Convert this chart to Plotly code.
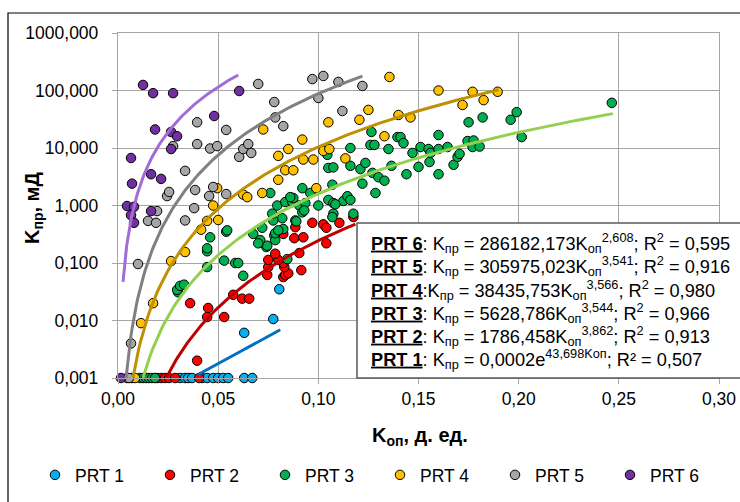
import numpy as np
import plotly.graph_objects as go

# ---------------- data ----------------
names = ["PRT 1", "PRT 2", "PRT 3", "PRT 4", "PRT 5", "PRT 6"]
marker_colors = ["#00B0F0", "#FF0000", "#00B050", "#FFC000", "#A6A6A6", "#7030A0"]
line_colors = ["#0070C0", "#C00000", "#92D050", "#BF9000", "#808080", "#A36BD8"]

prt1_x = [0.031, 0.0335, 0.035, 0.037, 0.042, 0.0445, 0.0475, 0.05, 0.0525, 0.055,
          0.063, 0.067, 0.063, 0.0775, 0.0805]
prt1_y = [0.001, 0.001, 0.001, 0.001, 0.001, 0.001, 0.001, 0.001, 0.001, 0.001,
          0.001, 0.001, 0.0061, 0.0106, 0.035]

prt2_x = [0.0195, 0.0215, 0.0235, 0.0255, 0.0285, 0.0405,
          0.0395, 0.0445, 0.053, 0.045, 0.036, 0.0575, 0.062, 0.0655, 0.0745,
          0.0825, 0.0835, 0.085, 0.0915, 0.075, 0.083, 0.0825, 0.075, 0.08,
          0.0785, 0.0905, 0.104, 0.088, 0.0925, 0.0825, 0.0885, 0.097, 0.1025,
          0.104, 0.1105, 0.1175]
prt2_y = [0.001, 0.001, 0.001, 0.001, 0.001, 0.001,
          0.002, 0.0115, 0.0115, 0.0165, 0.02, 0.028, 0.024, 0.024, 0.062,
          0.057, 0.062, 0.066, 0.075, 0.085, 0.085, 0.1, 0.113, 0.113,
          0.145, 0.149, 0.22, 0.27, 0.28, 0.32, 0.42, 0.5, 0.47,
          0.41, 0.5, 0.63]

prt3_x = [0.011, 0.0125, 0.014, 0.0155, 0.017, 0.0185,
          0.03, 0.0295, 0.031, 0.033, 0.0445, 0.0445, 0.053, 0.0585, 0.06, 0.0625,
          0.0445, 0.046, 0.054, 0.0545, 0.0675, 0.072, 0.074, 0.0745, 0.071, 0.078,
          0.0785, 0.0825, 0.0845, 0.07, 0.0785, 0.08, 0.082, 0.0775, 0.077, 0.0885,
          0.0795, 0.0835, 0.087, 0.0875, 0.0905, 0.0935, 0.076, 0.092, 0.096, 0.1,
          0.105, 0.1075, 0.1125, 0.1145, 0.116, 0.1075, 0.1175, 0.089, 0.092, 0.093,
          0.107, 0.086, 0.1085, 0.107, 0.105, 0.1075, 0.1045, 0.116, 0.116, 0.121,
          0.1235, 0.122, 0.127, 0.13, 0.133, 0.1285, 0.1265, 0.126, 0.128, 0.135,
          0.1365, 0.1395, 0.141, 0.1425, 0.144, 0.147, 0.15, 0.151, 0.1555, 0.155,
          0.156, 0.16, 0.1645, 0.16, 0.16, 0.1675, 0.1695, 0.1705, 0.1745, 0.1775,
          0.177, 0.1805, 0.175, 0.182, 0.196, 0.199, 0.2015, 0.2465]
prt3_y = [0.001, 0.001, 0.001, 0.001, 0.001, 0.001,
          0.031, 0.034, 0.04, 0.042, 0.085, 0.16, 0.11, 0.1, 0.1, 0.06,
          0.18, 0.28, 0.35, 0.37, 0.32, 0.41, 0.19, 0.2, 0.25, 0.3,
          0.25, 0.39, 0.117, 0.22, 0.33, 0.37, 0.6, 0.55, 0.72, 0.55,
          1.0, 1.15, 1.15, 1.35, 1.0, 1.1, 1.65, 2.0, 1.65, 1.0,
          1.25, 1.1, 1.2, 1.45, 1.25, 0.72, 0.72, 0.53, 0.76, 0.82,
          0.63, 1.4, 1.05, 2.3, 4.5, 4.6, 7.6, 10.0, 4.9, 4.3,
          5.5, 2.4, 3.7, 3.1, 2.7, 1.65, 19.0, 11.3, 11.3, 9.6,
          4.9, 15.5, 15.5, 12.2, 3.5, 8.2, 4.7, 10.4, 5.7, 9.6,
          8.2, 9.6, 10.4, 16.8, 3.5, 5.1, 7.0, 7.9, 13.2, 13.5,
          10.4, 10.6, 28.0, 34.0, 31.0, 42.0, 15.5, 61.0]

prt4_x = [0.007, 0.0085, 0.0115, 0.0175, 0.0265, 0.0335, 0.0415, 0.0445, 0.05,
          0.0475, 0.0495, 0.0625, 0.0645, 0.072, 0.08, 0.0835, 0.0875, 0.08, 0.085,
          0.0725, 0.092, 0.0925, 0.0975, 0.099, 0.105, 0.1025, 0.1055, 0.1135,
          0.1205, 0.125, 0.133, 0.14, 0.146, 0.1355, 0.16, 0.172, 0.177, 0.1825,
          0.1895]
prt4_y = [0.001, 0.001, 0.009, 0.02, 0.108, 0.155, 0.38, 0.54, 0.56,
          1.0, 2.0, 1.55, 1.4, 1.65, 2.8, 4.1, 4.1, 7.3, 9.6,
          21.0, 14.0, 6.3, 6.3, 2.0, 28.0, 8.9, 9.6, 6.6,
          31.0, 46.0, 16.0, 37.5, 34.0, 172.0, 100.0, 56.0, 95.0, 68.0,
          95.0]

prt5_x = [0.0045, 0.0055, 0.0065, 0.01, 0.015, 0.019, 0.0195, 0.0245, 0.0255,
          0.0335, 0.0335, 0.038, 0.0385, 0.0455, 0.0475, 0.054, 0.0275, 0.0395,
          0.046, 0.0495, 0.0395, 0.054, 0.0605, 0.0625, 0.065, 0.0665, 0.07,
          0.078, 0.0785, 0.0825, 0.097, 0.1025, 0.1, 0.11, 0.112, 0.122]
prt5_y = [0.001, 0.001, 0.004, 0.096, 0.54, 0.5, 0.8, 1.46, 1.72,
          4.0, 0.55, 0.9, 1.86, 1.46, 2.1, 1.58, 10.8, 11.7,
          9.8, 10.8, 28.0, 20.6, 7.0, 9.6, 11.7, 8.2, 130.0,
          63.0, 34.0, 24.0, 158.0, 179.0, 74.0, 141.0, 44.0, 120.0]

prt6_x = [0.0015, 0.0045, 0.0065, 0.0065, 0.007, 0.008, 0.008, 0.0125, 0.0165,
          0.0165, 0.0175, 0.0185, 0.0215, 0.0265, 0.0265, 0.0275, 0.0295, 0.048,
          0.0605]
prt6_y = [0.001, 0.98, 0.68, 6.7, 2.4, 0.95, 0.5, 125.0, 3.5,
          0.8, 90.0, 21.0, 2.9, 19.0, 9.6, 90.0, 16.0, 36.0,
          98.0]

series_x = [prt1_x, prt2_x, prt3_x, prt4_x, prt5_x, prt6_x]
series_y = [prt1_y, prt2_y, prt3_y, prt4_y, prt5_y, prt6_y]

# trendlines (coefficients printed on the chart); PRT 1 is exponential, others power
trend_kind = ["exp", "pow", "pow", "pow", "pow", "pow"]
trend_a = [0.0002, 1786.458, 5628.786, 38435.753, 305975.023, 286182.173]
trend_b = [43.698, 3.862, 3.544, 3.566, 3.541, 2.608]
trend_x0 = [0.040, 0.0241, 0.0125, 0.0075, 0.0040, 0.0025]
trend_x1 = [0.081, 0.1185, 0.247, 0.190, 0.122, 0.060]

x_ticks = [0.0, 0.05, 0.10, 0.15, 0.20, 0.25, 0.30]
x_ticktext = ["0,00", "0,05", "0,10", "0,15", "0,20", "0,25", "0,30"]
y_ticks = [0.001, 0.01, 0.1, 1, 10, 100, 1000]
y_ticktext = ["0,001", "0,010", "0,100", "1,000", "10,000", "100,000", "1000,000"]

equations = [
    "<b><u>PRT 6</u></b>: K<sub>пр</sub> = 286182,173K<sub>оп</sub><sup>2,608</sup>; R<sup>2</sup> = 0,595",
    "<b><u>PRT 5</u></b>: K<sub>пр</sub> = 305975,023K<sub>оп</sub><sup>3,541</sup>; R<sup>2</sup> = 0,916",
    "<b><u>PRT 4</u></b>:K<sub>пр</sub> = 38435,753K<sub>оп</sub><sup>3,566</sup>; R<sup>2</sup> = 0,980",
    "<b><u>PRT 3</u></b>: K<sub>пр</sub> = 5628,786K<sub>оп</sub><sup>3,544</sup>; R<sup>2</sup> = 0,966",
    "<b><u>PRT 2</u></b>: K<sub>пр</sub> = 1786,458K<sub>оп</sub><sup>3,862</sup>; R<sup>2</sup> = 0,913",
    "<b><u>PRT 1</u></b>: K<sub>пр</sub> = 0,0002e<sup>43,698Kоп</sup>; R² = 0,507",
]

FONT = "Arial, Liberation Sans, sans-serif"
GRID = "#A6A6A6"

# ---------------- figure ----------------
fig = go.Figure()

for i in range(6):
    fig.add_trace(go.Scatter(
        x=series_x[i], y=series_y[i], mode="markers", name=names[i],
        marker=dict(size=9.5, color=marker_colors[i], line=dict(color="#000000", width=1)),
        cliponaxis=False,
    ))

for i in range(6):
    xs = np.linspace(trend_x0[i], trend_x1[i], 200)
    if trend_kind[i] == "exp":
        ys = trend_a[i] * np.exp(trend_b[i] * xs)
    else:
        ys = trend_a[i] * xs ** trend_b[i]
    fig.add_trace(go.Scatter(
        x=xs, y=ys, mode="lines", showlegend=False, hoverinfo="skip",
        line=dict(color=line_colors[i], width=3),
    ))

L, R, T, B = 118, 21, 33, 124
W, H = 740, 502
pw, ph = W - L - R, H - T - B

def px(xp):
    return (xp - L) / pw

def py(yp):
    return (H - B - yp) / ph

fig.update_layout(
    width=W, height=H,
    margin=dict(l=L, r=R, t=T, b=B, autoexpand=False),
    paper_bgcolor="white", plot_bgcolor="white",
    font=dict(family=FONT, size=17.5, color="#000000"),
    showlegend=True,
    legend=dict(
        orientation="h", x=px(35), y=py(475), xanchor="left", yanchor="middle",
        font=dict(size=17.5, family=FONT, color="#000000"),
        entrywidth=70, entrywidthmode="pixels", traceorder="normal",
        bgcolor="rgba(0,0,0,0)", borderwidth=0, tracegroupgap=0,
    ),
    xaxis=dict(
        range=[0, 0.30], tickvals=x_ticks, ticktext=x_ticktext,
        showgrid=True, gridcolor=GRID, gridwidth=1.3,
        showline=True, linecolor=GRID, linewidth=1.3, mirror=True,
        ticks="outside", ticklen=5, tickcolor=GRID, tickwidth=1.3,
        zeroline=False, ticklabelstandoff=0,
        tickfont=dict(size=17.5, family=FONT, color="#000000"),
    ),
    yaxis=dict(
        type="log", range=[-3, 3], tickvals=y_ticks, ticktext=y_ticktext,
        showgrid=True, gridcolor=GRID, gridwidth=1.3,
        showline=True, linecolor=GRID, linewidth=1.3, mirror=True,
        ticks="outside", ticklen=5, tickcolor=GRID, tickwidth=1.3,
        zeroline=False, ticklabelstandoff=10,
        tickfont=dict(size=17.5, family=FONT, color="#000000"),
    ),
)

# outer chart frame (cut by the picture on the right and bottom)
fig.add_shape(type="rect", xref="paper", yref="paper",
              x0=px(8), x1=px(760), y0=py(530), y1=py(13),
              line=dict(color="#000000", width=1.2), fillcolor="rgba(0,0,0,0)", layer="below")

# equation box
fig.add_shape(type="rect", xref="paper", yref="paper",
              x0=px(357), x1=px(760), y0=py(378), y1=py(223),
              line=dict(color="#595959", width=1.5), fillcolor="white", layer="above")

eq_y = [243, 266, 290, 313, 336, 359]
for txt, yy in zip(equations, eq_y):
    fig.add_annotation(text=txt, xref="paper", yref="paper", x=px(370), y=py(yy),
                       xanchor="left", yanchor="middle", showarrow=False,
                       width=368, align="left", borderpad=0,
                       font=dict(size=18.2, family=FONT, color="#000000"))

# axis titles
fig.add_annotation(text="<b>K<sub>оп</sub>, д. ед.</b>", xref="paper", yref="paper",
                   x=px(420), y=py(436), xanchor="center", yanchor="middle", showarrow=False,
                   font=dict(size=20, family=FONT, color="#000000"))
fig.add_annotation(text="<b>K<sub>пр</sub>, мД</b>", xref="paper", yref="paper",
                   x=px(33), y=py(208), xanchor="center", yanchor="middle", showarrow=False,
                   textangle=-90, font=dict(size=20, family=FONT, color="#000000"))

fig.write_html("out.html")
